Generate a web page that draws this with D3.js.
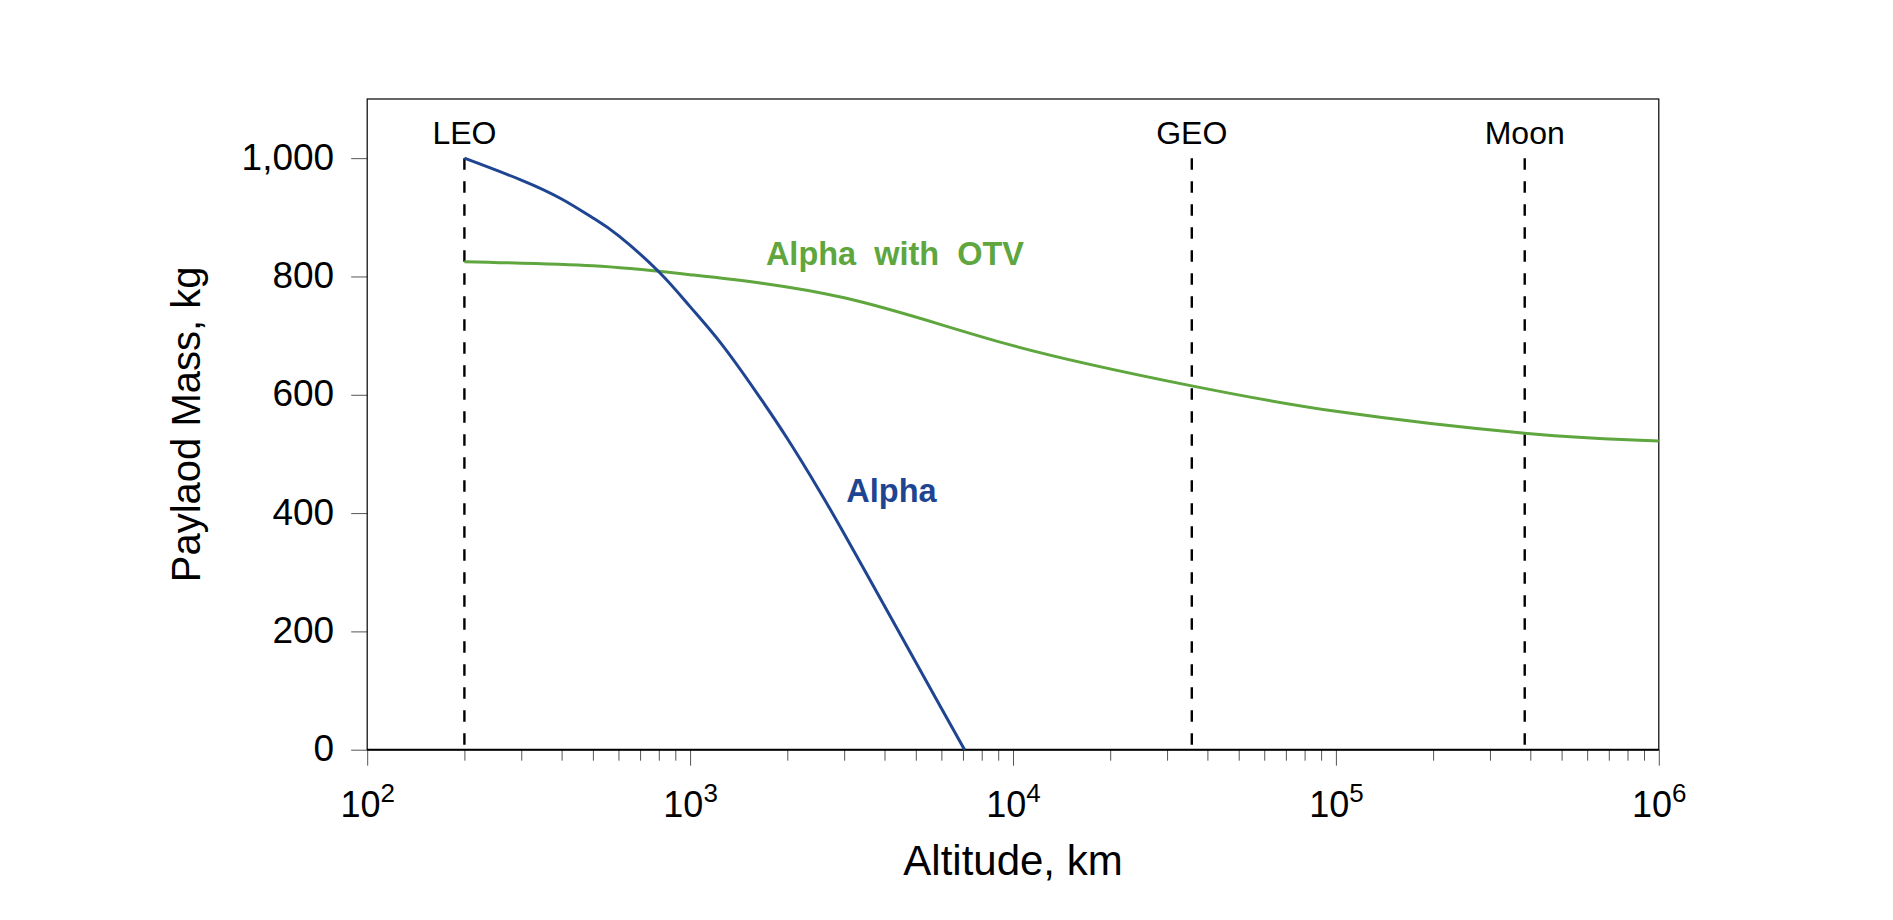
<!DOCTYPE html>
<html>
<head>
<meta charset="utf-8">
<script src="https://cdn.jsdelivr.net/npm/d3@7"></script>
<style>
  html, body { margin: 0; padding: 0; background: #fff; }
  svg { display: block; }
  text { font-family: "Liberation Sans", Arial, sans-serif; }
</style>
</head>
<body>
<svg id="chart" width="1893" height="920"></svg>
<script>
// ---- data ----
const alphaAltitude = [200, 300, 400, 500, 600, 800, 1000, 1250, 1600, 2000, 2500, 3000, 4000, 5000, 6000, 7080];
const alphaMass     = [1000, 963, 931, 899, 869, 808, 749, 686, 605, 526, 440, 365, 243, 148, 70, 0];

const otvAltitude = [200, 500, 1000, 3000, 10000, 35786, 100000, 384400, 1000000];
const otvMass     = [825, 818, 803, 764, 683, 615, 572, 535, 522];

const markerNames = ["LEO", "GEO", "Moon"];
const markerAltitudes = [200, 35786, 384400];

const yTicks = [0, 200, 400, 600, 800, 1000];
const xMajorTicks = [1e2, 1e3, 1e4, 1e5, 1e6];
const xTickExponents = ["2", "3", "4", "5", "6"];

const seriesNames = ["Alpha", "Alpha with OTV"];
const seriesColors = ["#1f4592", "#5ea63d"];
const labelAltitude = [4205, 4310];
const labelMass = [419, 819];

// ---- layout ----
const pL = 367.2, pR = 1658.8, pT = 99, pB = 749.7;
const svg = d3.select("#chart");

const x = d3.scaleLog().domain([1e2, 1e6]).range([pL, pR]);
const y = d3.scaleLinear().domain([0, 1100]).range([pB, pT]);

// minor ticks
const xMinor = [];
for (let e = 2; e < 6; e++) for (let m = 2; m <= 9; m++) xMinor.push(m * Math.pow(10, e));

const gMinor = svg.append("g").attr("transform", `translate(0,${pB})`)
  .call(d3.axisBottom(x).tickValues(xMinor).tickSize(11).tickFormat(""));
gMinor.select(".domain").remove();
gMinor.selectAll(".tick line").attr("stroke", "#555").attr("stroke-width", 1);

const gX = svg.append("g").attr("transform", `translate(0,${pB})`)
  .call(d3.axisBottom(x).tickValues(xMajorTicks).tickSize(16).tickPadding(0).tickFormat(() => ""));
gX.select(".domain").remove();
gX.selectAll(".tick line").attr("stroke", "#555").attr("stroke-width", 1);
gX.selectAll(".tick text").each(function(d, i) {
  const t = d3.select(this);
  t.text(null)
   .attr("y", 67).attr("dy", null)
   .attr("fill", "#000")
   .attr("font-size", 36)
   .attr("font-family", "Liberation Sans, Arial, sans-serif")
   .attr("text-anchor", "middle");
  t.append("tspan").text("10");
  t.append("tspan").attr("font-size", 26).attr("dy", -15).text(xTickExponents[i]);
});

const gY = svg.append("g").attr("transform", `translate(${pL},0)`)
  .call(d3.axisLeft(y).tickValues(yTicks).tickSize(16).tickPadding(17).tickFormat(d3.format(",")));
gY.select(".domain").remove();
gY.selectAll(".tick line").attr("stroke", "#555").attr("stroke-width", 1);
gY.selectAll(".tick text")
  .attr("fill", "#000")
  .attr("font-size", 37)
  .attr("font-family", "Liberation Sans, Arial, sans-serif")
  .attr("dy", 11);

// frame
svg.append("rect")
  .attr("x", pL).attr("y", pT)
  .attr("width", pR - pL).attr("height", pB - pT)
  .attr("fill", "none").attr("stroke", "#000").attr("stroke-width", 1.2);
svg.append("line")
  .attr("x1", pL).attr("x2", pR).attr("y1", pB).attr("y2", pB)
  .attr("stroke", "#000").attr("stroke-width", 2);

// markers
markerAltitudes.forEach((a, i) => {
  svg.append("line")
    .attr("x1", x(a)).attr("x2", x(a))
    .attr("y1", y(1000)).attr("y2", y(0))
    .attr("stroke", "#000").attr("stroke-width", 2.4)
    .attr("stroke-dasharray", "11.5,11.5");
  svg.append("text")
    .attr("x", x(a)).attr("y", y(1000) - 14.5)
    .attr("text-anchor", "middle")
    .attr("font-size", 32)
    .attr("fill", "#000")
    .text(markerNames[i]);
});

// series
const line = d3.line().x(d => x(d[0])).y(d => y(d[1])).curve(d3.curveNatural);
const alphaPts = alphaAltitude.map((a, i) => [a, alphaMass[i]]);
const otvPts = otvAltitude.map((a, i) => [a, otvMass[i]]);

svg.append("path").datum(otvPts).attr("d", line)
  .attr("fill", "none").attr("stroke", seriesColors[1]).attr("stroke-width", 3);
svg.append("path").datum(alphaPts).attr("d", line)
  .attr("fill", "none").attr("stroke", seriesColors[0]).attr("stroke-width", 3);

// series labels
seriesNames.forEach((n, i) => {
  svg.append("text")
    .attr("x", x(labelAltitude[i])).attr("y", y(labelMass[i]))
    .attr("text-anchor", "middle")
    .attr("font-size", 32.5)
    .attr("font-weight", "bold")
    .attr("word-spacing", i === 1 ? 9 : 0)
    .attr("fill", seriesColors[i])
    .text(n);
});

// axis titles
svg.append("text")
  .attr("x", (pL + pR) / 2).attr("y", 875)
  .attr("text-anchor", "middle")
  .attr("font-size", 42)
  .attr("fill", "#000")
  .text("Altitude, km");

svg.append("text")
  .attr("transform", `translate(200,${(pT + pB) / 2}) rotate(-90)`)
  .attr("text-anchor", "middle")
  .attr("font-size", 40)
  .attr("fill", "#000")
  .text("Paylaod Mass, kg");
</script>
</body>
</html>
